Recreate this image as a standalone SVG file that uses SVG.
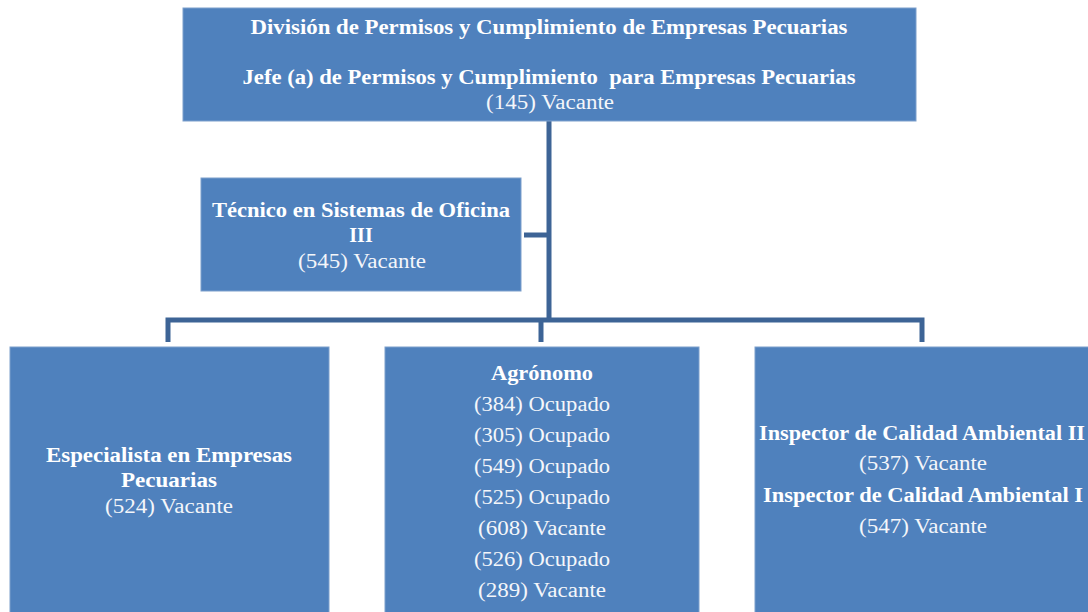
<svg xmlns="http://www.w3.org/2000/svg" width="1088" height="612" viewBox="0 0 1088 612">
<style>
.box{fill:#4f81bd;stroke:#7d9fcc;stroke-width:1}
.b{font-family:"Liberation Serif","DejaVu Serif",serif;font-weight:bold;font-size:20px;fill:#ffffff;text-anchor:middle}
.r{font-family:"Liberation Serif","DejaVu Serif",serif;font-size:20px;fill:#f4f6fa;text-anchor:middle}
.ln{fill:none;stroke:#3d6496;stroke-width:5}
</style>
<rect width="1088" height="612" fill="#ffffff"/>
<g id="connectors">
<path class="ln" d="M549 121 V320"/>
<path class="ln" d="M524 235 H549"/>
<path class="ln" d="M168 342 V320 H922 V342"/>
<path class="ln" d="M541 320 V342"/>
</g>
<g id="top">
<rect class="box" x="183" y="8" width="733" height="113"/>
<text class="b" x="549" y="34" textLength="597" lengthAdjust="spacingAndGlyphs">División de Permisos y Cumplimiento de Empresas Pecuarias</text>
<text class="b" x="549" y="84" textLength="613" lengthAdjust="spacingAndGlyphs">Jefe (a) de Permisos y Cumplimiento&#160; para Empresas Pecuarias</text>
<text class="r" x="550" y="109" textLength="128" lengthAdjust="spacingAndGlyphs">(145) Vacante</text>
</g>
<g id="tecnico">
<rect class="box" x="201" y="178" width="320" height="113"/>
<text class="b" x="361" y="217" textLength="298" lengthAdjust="spacingAndGlyphs">Técnico en Sistemas de Oficina</text>
<text class="b" x="361" y="242">III</text>
<text class="r" x="362" y="268" textLength="128" lengthAdjust="spacingAndGlyphs">(545) Vacante</text>
</g>
<g id="especialista">
<rect class="box" x="10" y="347" width="319" height="270"/>
<text class="b" x="169" y="462" textLength="246" lengthAdjust="spacingAndGlyphs">Especialista en Empresas</text>
<text class="b" x="169" y="487" textLength="96" lengthAdjust="spacingAndGlyphs">Pecuarias</text>
<text class="r" x="169" y="513" textLength="128" lengthAdjust="spacingAndGlyphs">(524) Vacante</text>
</g>
<g id="agronomo">
<rect class="box" x="385" y="347" width="314" height="270"/>
<text class="b" x="542" y="380" textLength="102" lengthAdjust="spacingAndGlyphs">Agrónomo</text>
<text class="r" x="542" y="411" textLength="136" lengthAdjust="spacingAndGlyphs">(384) Ocupado</text>
<text class="r" x="542" y="442" textLength="136" lengthAdjust="spacingAndGlyphs">(305) Ocupado</text>
<text class="r" x="542" y="473" textLength="136" lengthAdjust="spacingAndGlyphs">(549) Ocupado</text>
<text class="r" x="542" y="504" textLength="136" lengthAdjust="spacingAndGlyphs">(525) Ocupado</text>
<text class="r" x="542" y="535" textLength="128" lengthAdjust="spacingAndGlyphs">(608) Vacante</text>
<text class="r" x="542" y="566" textLength="136" lengthAdjust="spacingAndGlyphs">(526) Ocupado</text>
<text class="r" x="542" y="597" textLength="128" lengthAdjust="spacingAndGlyphs">(289) Vacante</text>
</g>
<g id="inspector">
<rect class="box" x="755" y="347" width="340" height="270"/>
<text class="b" x="922" y="440" textLength="326" lengthAdjust="spacingAndGlyphs">Inspector de Calidad Ambiental II</text>
<text class="r" x="923" y="470" textLength="128" lengthAdjust="spacingAndGlyphs">(537) Vacante</text>
<text class="b" x="923" y="502" textLength="320" lengthAdjust="spacingAndGlyphs">Inspector de Calidad Ambiental I</text>
<text class="r" x="923" y="533" textLength="128" lengthAdjust="spacingAndGlyphs">(547) Vacante</text>
</g>
</svg>
